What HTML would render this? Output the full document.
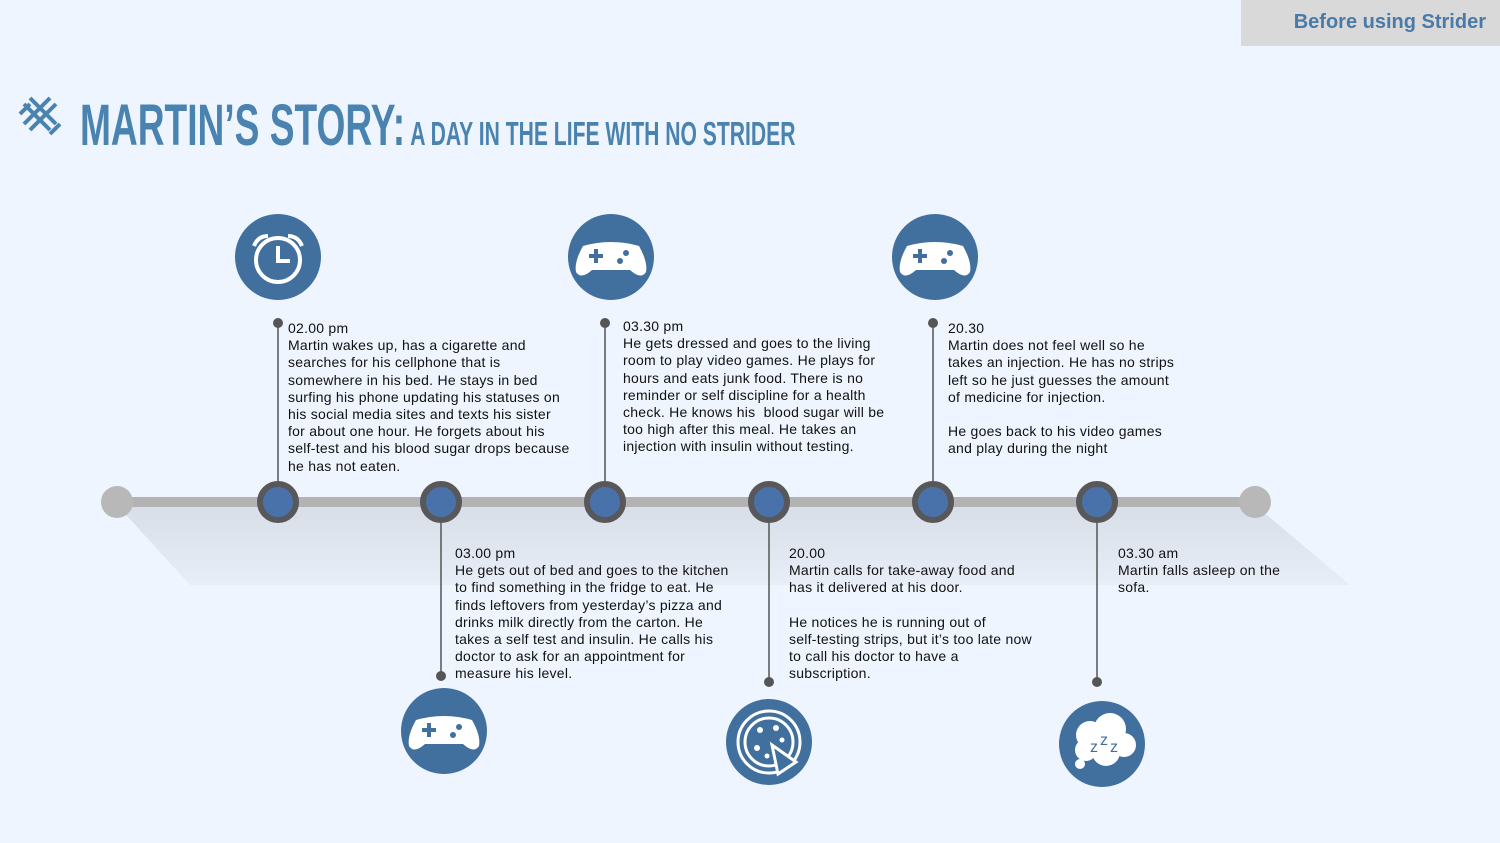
<!DOCTYPE html>
<html><head><meta charset="utf-8"><style>
body{margin:0;width:1500px;height:843px;background:#eef5fe;position:relative;overflow:hidden;font-family:"Liberation Sans",sans-serif}
.t{position:absolute;font-size:14px;line-height:17.2px;color:#111;white-space:pre;letter-spacing:0.25px}
.badge{position:absolute;left:1241px;top:0;width:259px;height:46px;background:#d9d9d9}
.badge span{position:absolute;right:14px;top:11px;font-weight:bold;font-size:20px;color:#4a7aa8}
.title{position:absolute;left:80px;top:92px;color:#4a82b0;font-family:"Liberation Sans Narrow","Liberation Sans",sans-serif;font-weight:bold;transform-origin:0 0;transform:scaleX(0.64);white-space:nowrap}
</style></head><body>
<div class="badge"><span>Before using Strider</span></div>
<div class="title"><span style="font-size:58px">MARTIN’S STORY:</span><span style="font-size:33px"> A DAY IN THE LIFE WITH NO STRIDER</span></div>
<svg width="1500" height="843" style="position:absolute;left:0;top:0">
<defs><linearGradient id="sh" x1="0" y1="0" x2="0" y2="1"><stop offset="0" stop-color="#d8dee8"/><stop offset="1" stop-color="#e8eef7"/></linearGradient></defs>
<g stroke="#4a82b0" stroke-width="4" fill="none">
<path d="M24 104 L50 130 M30 98 L56 124 M24 124 L50 98 M30 130 L56 104 M20 114 L30 104 M50 134 L60 124"/>
</g>
<polygon points="117,505 1255,505 1350,585 190,585" fill="url(#sh)"/>
<line x1="117" y1="502" x2="1255" y2="502" stroke="#b3b3b3" stroke-width="10"/>
<circle cx="117" cy="502" r="16" fill="#b8b8b8"/>
<circle cx="1255" cy="502" r="16" fill="#b8b8b8"/>
<g stroke="#555" stroke-width="1.5">
<line x1="278" y1="323" x2="278" y2="485"/><line x1="605" y1="323" x2="605" y2="485"/><line x1="933" y1="323" x2="933" y2="485"/>
<line x1="441" y1="520" x2="441" y2="676"/><line x1="769" y1="520" x2="769" y2="682"/><line x1="1097" y1="520" x2="1097" y2="682"/>
</g>
<g fill="#555"><circle cx="278" cy="323" r="5"/><circle cx="605" cy="323" r="5"/><circle cx="933" cy="323" r="5"/><circle cx="441" cy="676" r="5"/><circle cx="769" cy="682" r="5"/><circle cx="1097" cy="682" r="5"/></g>
<g fill="#4a72aa" stroke="#58585a" stroke-width="6">
<circle cx="278" cy="502" r="18"/><circle cx="441" cy="502" r="18"/><circle cx="605" cy="502" r="18"/><circle cx="769" cy="502" r="18"/><circle cx="933" cy="502" r="18"/><circle cx="1097" cy="502" r="18"/>
</g>
<g fill="#41709f"><circle cx="278" cy="257" r="43"/><circle cx="611" cy="257" r="43"/><circle cx="935" cy="257" r="43"/><circle cx="444" cy="731" r="43"/><circle cx="769" cy="742" r="43"/><circle cx="1102" cy="744" r="43"/></g>
<g stroke="#fff" stroke-width="4" fill="none"><circle cx="278" cy="260" r="22"/><path d="M278 246 V261 H290"/><path d="M254 246 Q258 236 268 236 M302 246 Q298 236 288 236"/></g>
<g id="gp"><path d="M583 246 Q611 238 639 246 Q648 262 646 272 Q641 280 630 270 L592 270 Q581 280 576 272 Q574 262 583 246Z" fill="#fff"/><path d="M596 249 v14 M589 256 h14" stroke="#41709f" stroke-width="4"/><circle cx="626" cy="253" r="3" fill="#41709f"/><circle cx="620" cy="261" r="3" fill="#41709f"/></g>
<use href="#gp" x="324" y="0"/><use href="#gp" x="-167" y="474"/>
<g fill="none" stroke="#fff" stroke-width="3"><circle cx="769" cy="742" r="31"/><circle cx="769" cy="742" r="24"/><path d="M772 745 L796 762 L778 774Z" fill="#41709f"/></g>
<g fill="#fff"><circle cx="760" cy="730" r="3"/><circle cx="776" cy="728" r="3"/><circle cx="757" cy="748" r="3"/><circle cx="782" cy="740" r="2.5"/><circle cx="767" cy="756" r="2.5"/></g>
<g fill="#fff"><circle cx="1090" cy="735" r="14"/><circle cx="1110" cy="729" r="16"/><circle cx="1124" cy="745" r="12"/><circle cx="1106" cy="752" r="14"/><circle cx="1086" cy="750" r="11"/><circle cx="1080" cy="764" r="5"/></g>
<text x="1090" y="752" font-family="Liberation Sans" font-size="16" fill="#41709f">z</text><text x="1100" y="745" font-family="Liberation Sans" font-size="16" fill="#41709f">z</text><text x="1110" y="752" font-family="Liberation Sans" font-size="16" fill="#41709f">z</text>
</svg>
<div class="t" style="left:288px;top:320px">02.00 pm
Martin wakes up, has a cigarette and
searches for his cellphone that is
somewhere in his bed. He stays in bed
surfing his phone updating his statuses on
his social media sites and texts his sister
for about one hour. He forgets about his
self-test and his blood sugar drops because
he has not eaten.</div>
<div class="t" style="left:623px;top:318px">03.30 pm
He gets dressed and goes to the living
room to play video games. He plays for
hours and eats junk food. There is no
reminder or self discipline for a health
check. He knows his  blood sugar will be
too high after this meal. He takes an
injection with insulin without testing.</div>
<div class="t" style="left:948px;top:320px">20.30
Martin does not feel well so he
takes an injection. He has no strips
left so he just guesses the amount
of medicine for injection.

He goes back to his video games
and play during the night</div>
<div class="t" style="left:455px;top:545px">03.00 pm
He gets out of bed and goes to the kitchen
to find something in the fridge to eat. He
finds leftovers from yesterday’s pizza and
drinks milk directly from the carton. He
takes a self test and insulin. He calls his
doctor to ask for an appointment for
measure his level.</div>
<div class="t" style="left:789px;top:545px">20.00
Martin calls for take-away food and
has it delivered at his door.

He notices he is running out of
self-testing strips, but it’s too late now
to call his doctor to have a
subscription.</div>
<div class="t" style="left:1118px;top:545px">03.30 am
Martin falls asleep on the
sofa.</div>
</body></html>
